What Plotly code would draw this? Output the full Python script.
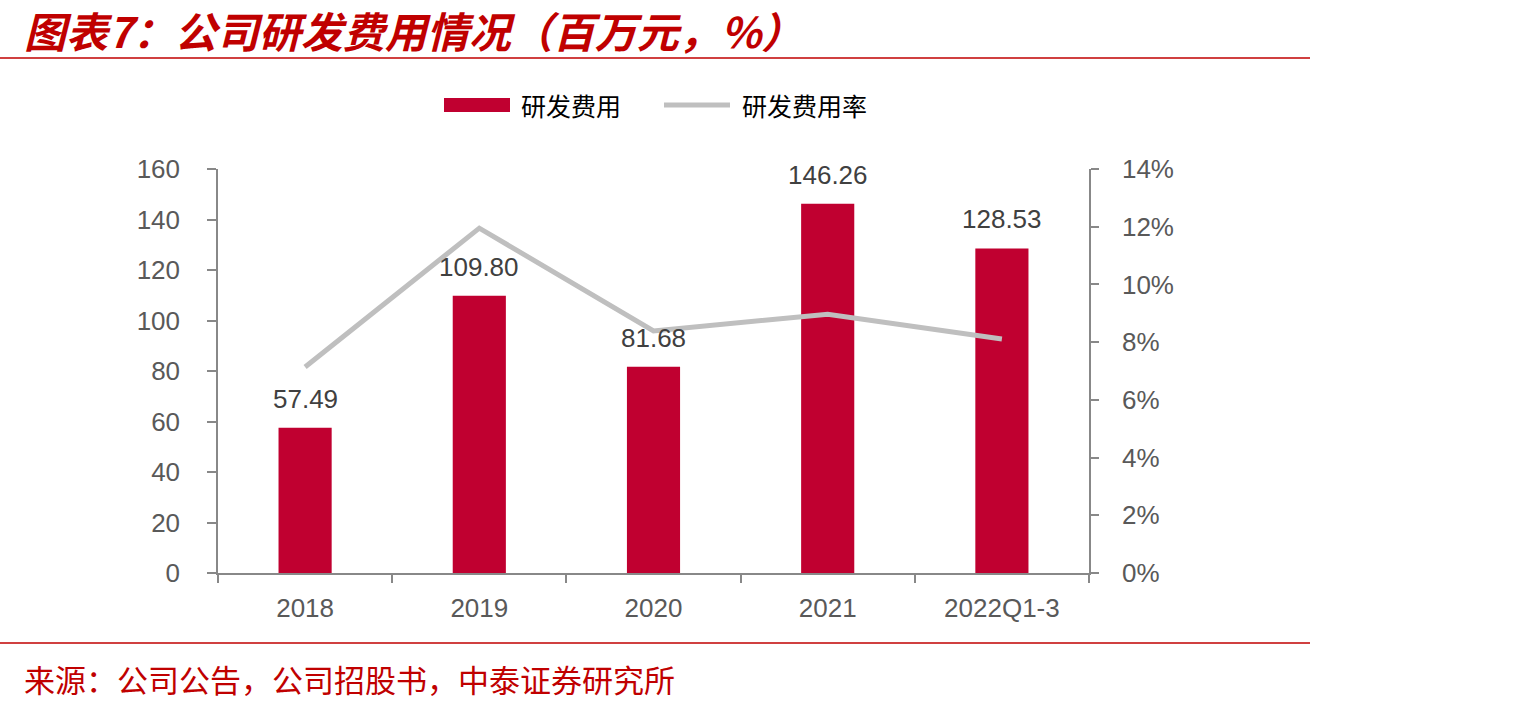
import plotly.graph_objects as go

categories = ["2018", "2019", "2020", "2021", "2022Q1-3"]
rd_expense = [57.49, 109.80, 81.68, 146.26, 128.53]
rd_ratio = [0.0714, 0.1195, 0.0839, 0.0897, 0.0811]
left_ticks = [0, 20, 40, 60, 80, 100, 120, 140, 160]
right_ticks = [0, 0.02, 0.04, 0.06, 0.08, 0.10, 0.12, 0.14]

W, H = 1535, 708
L, R, T, B = 218, 1089, 169, 573
pw, ph = R - L, B - T

def fx(px):
    return (px - L) / pw

def fy(py):
    return (B - py) / ph

RED = "#C00030"
TXT_RED = "#C00000"
GRAY_LINE = "#BFBFBF"
AX = "#888888"

fig = go.Figure()
fig.add_trace(go.Bar(x=categories, y=rd_expense, name="研发费用",
                     marker=dict(color=RED, line=dict(width=0)),
                     showlegend=False, yaxis="y"))
fig.add_trace(go.Scatter(x=categories, y=rd_ratio, name="研发费用率", mode="lines",
                         line=dict(color=GRAY_LINE, width=5),
                         showlegend=False, yaxis="y2"))

annotations = []
for i, v in enumerate(rd_expense):
    annotations.append(dict(x=i, y=v, xref="x", yref="y", text=f"{v:.2f}",
                            showarrow=False, xanchor="center", yanchor="middle", yshift=29,
                            font=dict(family="Liberation Sans, Arial", size=26, color="#404040")))

# title
annotations.append(dict(xref="paper", yref="paper", x=fx(22), y=fy(30), xanchor="left", yanchor="middle",
                        text="图表7：公司研发费用情况（百万元，%）", showarrow=False,
                        font=dict(family="Noto Sans CJK SC", size=42, color=TXT_RED,
                                  weight="bold", style="italic")))
# source
annotations.append(dict(xref="paper", yref="paper", x=fx(22), y=fy(678), xanchor="left", yanchor="middle",
                        text="来源：公司公告，公司招股书，中泰证券研究所", showarrow=False,
                        font=dict(family="Noto Sans CJK SC", size=31, color=TXT_RED)))
# legend texts
annotations.append(dict(xref="paper", yref="paper", x=fx(519), y=fy(105), xanchor="left", yanchor="middle",
                        text="研发费用", showarrow=False,
                        font=dict(family="Noto Sans CJK SC", size=25, color="#000000")))
annotations.append(dict(xref="paper", yref="paper", x=fx(740), y=fy(105), xanchor="left", yanchor="middle",
                        text="研发费用率", showarrow=False,
                        font=dict(family="Noto Sans CJK SC", size=25, color="#000000")))

shapes = [
    dict(type="line", xref="paper", yref="paper", x0=fx(0), x1=fx(1310), y0=fy(58), y1=fy(58),
         line=dict(color=TXT_RED, width=1.5)),
    dict(type="line", xref="paper", yref="paper", x0=fx(0), x1=fx(1310), y0=fy(643), y1=fy(643),
         line=dict(color=TXT_RED, width=1.5)),
    dict(type="rect", xref="paper", yref="paper", x0=fx(444), x1=fx(510), y0=fy(112), y1=fy(98),
         fillcolor=RED, line=dict(width=0)),
    dict(type="line", xref="paper", yref="paper", x0=fx(664), x1=fx(730), y0=fy(105), y1=fy(105),
         line=dict(color=GRAY_LINE, width=5)),
]

fig.update_layout(
    width=W, height=H,
    margin=dict(l=L, r=W - R, t=T, b=H - B, autoexpand=False),
    paper_bgcolor="white", plot_bgcolor="white",
    bargap=0.695,
    showlegend=False,
    annotations=annotations,
    shapes=shapes,
    xaxis=dict(type="category", range=[-0.5, len(categories) - 0.5], showgrid=False, showline=True,
               linecolor=AX, linewidth=1.5,
               ticks="outside", tickson="boundaries", ticklen=8, tickcolor=AX, tickwidth=1.5,
               tickfont=dict(family="Liberation Sans, Arial", size=26, color="#595959"),
               tickangle=0, ticklabelstandoff=11, zeroline=False),
    yaxis=dict(range=[0, 160], tickvals=left_ticks, showgrid=False, showline=True,
               linecolor=AX, linewidth=1.5, ticks="outside", ticklen=9, tickcolor=AX, tickwidth=1.5,
               tickfont=dict(family="Liberation Sans, Arial", size=26, color="#595959"),
               ticklabelstandoff=22, zeroline=False),
    yaxis2=dict(range=[0, 0.14], tickvals=right_ticks, tickformat=".0%", overlaying="y", side="right",
                showgrid=False, showline=True, linecolor=AX, linewidth=1.5, ticks="outside", ticklen=8,
                tickcolor=AX, tickwidth=1.5,
                tickfont=dict(family="Liberation Sans, Arial", size=26, color="#595959"),
                ticklabelstandoff=18, zeroline=False),
)

fig.write_html("out.html")
